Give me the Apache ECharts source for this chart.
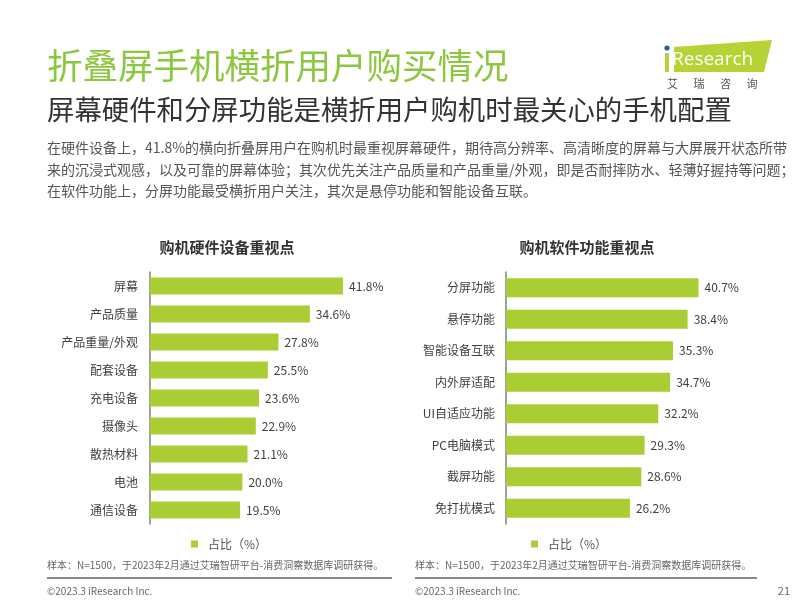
<!DOCTYPE html>
<html>
<head>
<meta charset="utf-8">
<script src="https://cdn.jsdelivr.net/npm/echarts@6/dist/echarts.min.js"></script>
<style>
html,body{margin:0;padding:0;background:#fff;}
#c{width:800px;height:600px;}
</style>
</head>
<body>
<div id="c"></div>
<script>
const hwCats = ['屏幕','产品质量','产品重量/外观','配套设备','充电设备','摄像头','散热材料','电池','通信设备'];
const hwVals = [41.8,34.6,27.8,25.5,23.6,22.9,21.1,20.0,19.5];
const swCats = ['分屏功能','悬停功能','智能设备互联','内外屏适配','UI自适应功能','PC电脑模式','截屏功能','免打扰模式'];
const swVals = [40.7,38.4,35.3,34.7,32.2,29.3,28.6,26.2];
const seriesName = '占比（%）';
const mainTitle = '折叠屏手机横折用户购买情况';
const subTitle = '屏幕硬件和分屏功能是横折用户购机时最关心的手机配置';
const bodyLines = [
  '在硬件设备上，41.8%的横向折叠屏用户在购机时最重视屏幕硬件，期待高分辨率、高清晰度的屏幕与大屏展开状态所带',
  '来的沉浸式观感，以及可靠的屏幕体验；其次优先关注产品质量和产品重量/外观，即是否耐摔防水、轻薄好握持等问题；',
  '在软件功能上，分屏功能最受横折用户关注，其次是悬停功能和智能设备互联。'
];
const chartTitles = ['购机硬件设备重视点','购机软件功能重视点'];
const sourceNote = '样本：N=1500，于2023年2月通过艾瑞智研平台-消费洞察数据库调研获得。';
const copyright = '©2023.3 iResearch Inc.';
const pageNo = '21';
const logoChars = ['艾','瑞','咨','询'];

const FONT = '"Noto Sans CJK SC","Noto Sans",sans-serif';
const GREEN = '#a9cd32';
const TITLE_GREEN = '#8dc63f';

const chart = echarts.init(document.getElementById('c'), null, {renderer:'canvas'});

function txt(x,y,text,size,color,extra){
  return {type:'text',x:x,y:y,style:Object.assign({text:text,fontSize:size,fontFamily:FONT,fill:color,verticalAlign:'middle'},extra||{})};
}

const graphics = [
  txt(47,66,mainTitle,35.5,TITLE_GREEN),
  txt(47,110,subTitle,27.4,'#333333'),
  txt(47,148,bodyLines[0],14,'#555555'),
  txt(47,170,bodyLines[1],14,'#555555'),
  txt(47,191,bodyLines[2],14,'#555555'),
  txt(227,247,chartTitles[0],15,'#333333',{align:'center',fontWeight:'bold'}),
  txt(587,247,chartTitles[1],15,'#333333',{align:'center',fontWeight:'bold'}),
  txt(47,565,sourceNote,10,'#666666'),
  txt(415,565,sourceNote,10,'#666666'),
  {type:'line',shape:{x1:47,y1:578,x2:392,y2:578},style:{stroke:'#8a8a8a',lineWidth:2}},
  {type:'line',shape:{x1:415,y1:578,x2:757,y2:578},style:{stroke:'#8a8a8a',lineWidth:2}},
  txt(47,591,copyright,10,'#666666'),
  txt(415,591,copyright,10,'#666666'),
  txt(790,591,pageNo,11,'#666666',{align:'right'}),
  // logo
  {type:'polygon',shape:{points:[[674,47],[772,40],[764,72],[674,72]]},style:{fill:'#b5d334'}},
  {type:'rect',shape:{x:665,y:53,width:4,height:19},style:{fill:'#b5d334'}},
  {type:'circle',shape:{cx:667,cy:48,r:2.6},style:{fill:'#2a5caa'}},
  txt(672,60,'Research',19,'#ffffff',{fontFamily:'"Open Sans",sans-serif'})
].concat(logoChars.map((ch,i)=>txt(667+i*26.5,84,ch,11,'#555555')));

const labelStyle = {show:true,position:'right',distance:6,color:'#404040',fontSize:12,fontFamily:FONT,
  formatter:p=>p.value.toFixed(1)+'%'};

chart.setOption({
  animation:false,
  backgroundColor:'#ffffff',
  textStyle:{fontFamily:FONT},
  grid:[
    {left:150,top:272,width:231,height:252},
    {left:506,top:272,width:236.5,height:252}
  ],
  xAxis:[
    {gridIndex:0,type:'value',min:0,max:50,show:false},
    {gridIndex:1,type:'value',min:0,max:50,show:false}
  ],
  yAxis:[
    {gridIndex:0,type:'category',data:hwCats,inverse:true,
     axisLine:{show:true,lineStyle:{color:'#808080',width:1.5}},axisTick:{show:false},
     axisLabel:{margin:12,color:'#404040',fontSize:12,fontFamily:FONT}},
    {gridIndex:1,type:'category',data:swCats,inverse:true,
     axisLine:{show:true,lineStyle:{color:'#808080',width:1.5}},axisTick:{show:false},
     axisLabel:{margin:11,color:'#404040',fontSize:12,fontFamily:FONT}}
  ],
  legend:[
    {left:186,top:533,itemWidth:7,itemHeight:7,icon:'rect',data:[seriesName],
     textStyle:{color:'#555555',fontSize:12,fontFamily:FONT,padding:[0,0,0,5]}},
    {left:526,top:533,itemWidth:7,itemHeight:7,icon:'rect',data:[seriesName],
     textStyle:{color:'#555555',fontSize:12,fontFamily:FONT,padding:[0,0,0,5]}}
  ],
  series:[
    {name:seriesName,type:'bar',xAxisIndex:0,yAxisIndex:0,data:hwVals,barWidth:17,
     itemStyle:{color:GREEN},label:labelStyle},
    {name:seriesName,type:'bar',xAxisIndex:1,yAxisIndex:1,data:swVals,barWidth:19,
     itemStyle:{color:GREEN},label:labelStyle}
  ],
  graphic:graphics
});
</script>
</body>
</html>
